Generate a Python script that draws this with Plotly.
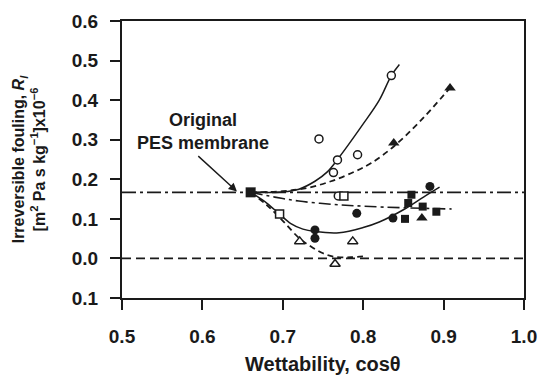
import plotly.graph_objects as go

# ---- data ----
orig_x = [0.66]
orig_y = [0.167]

open_circle_x = [0.745, 0.763, 0.768, 0.769, 0.793, 0.835]
open_circle_y = [0.302, 0.217, 0.249, 0.158, 0.262, 0.462]

open_square_x = [0.696, 0.776]
open_square_y = [0.112, 0.158]

open_tri_x = [0.721, 0.765, 0.787]
open_tri_y = [0.043, -0.014, 0.043]

fill_circle_x = [0.740, 0.740, 0.792, 0.837, 0.883]
fill_circle_y = [0.072, 0.051, 0.114, 0.102, 0.182]

fill_square_x = [0.852, 0.856, 0.860, 0.874, 0.891]
fill_square_y = [0.100, 0.140, 0.161, 0.131, 0.118]

fill_tri_x = [0.838, 0.873, 0.908]
fill_tri_y = [0.292, 0.102, 0.431]

c1_x = [0.66, 0.70, 0.72, 0.74, 0.755, 0.768, 0.80, 0.82, 0.835, 0.845]
c1_y = [0.167, 0.168, 0.175, 0.195, 0.218, 0.25, 0.34, 0.40, 0.462, 0.49]

c2_x = [0.66, 0.70, 0.73, 0.76, 0.79, 0.81, 0.838, 0.87, 0.908]
c2_y = [0.167, 0.170, 0.178, 0.195, 0.22, 0.241, 0.283, 0.345, 0.431]

c3_x = [0.66, 0.69, 0.72, 0.76, 0.80, 0.85, 0.91]
c3_y = [0.167, 0.155, 0.145, 0.137, 0.132, 0.128, 0.125]

c4_x = [0.66, 0.68, 0.696, 0.71, 0.725, 0.74, 0.77, 0.80, 0.82, 0.85, 0.875, 0.895]
c4_y = [0.167, 0.14, 0.112, 0.088, 0.074, 0.068, 0.065, 0.078, 0.092, 0.123, 0.155, 0.18]

c5_x = [0.66, 0.68, 0.70, 0.72, 0.735, 0.75, 0.765, 0.785, 0.805]
c5_y = [0.167, 0.135, 0.095, 0.052, 0.03, 0.013, 0.004, 0.003, 0.006]

ref_hline_y = 0.167
zero_line_y = 0.0

x_ticks = [0.5, 0.6, 0.7, 0.8, 0.9, 1.0]
x_ticktext = ["0.5", "0.6", "0.7", "0.8", "0.9", "1.0"]
y_ticks = [-0.1, 0.0, 0.1, 0.2, 0.3, 0.4, 0.5, 0.6]
y_ticktext = ["0.1", "0.0", "0.1", "0.2", "0.3", "0.4", "0.5", "0.6"]

x_title = "Wettability, cosθ"

FONT = "Liberation Sans, Arial, sans-serif"
INK = "#1a1a1a"

fig = go.Figure()

# horizontal reference lines
fig.add_trace(go.Scatter(x=[0.5, 1.0], y=[ref_hline_y, ref_hline_y], mode="lines",
                         line=dict(color=INK, width=1.8, dash="14px,4px,3px,4px"), showlegend=False))
fig.add_trace(go.Scatter(x=[0.5, 1.0], y=[zero_line_y, zero_line_y], mode="lines",
                         line=dict(color=INK, width=1.8, dash="9px,5px"), showlegend=False))

# curves
fig.add_trace(go.Scatter(x=c1_x, y=c1_y, mode="lines", line=dict(color=INK, width=1.5, shape="spline"), showlegend=False))
fig.add_trace(go.Scatter(x=c2_x, y=c2_y, mode="lines", line=dict(color=INK, width=1.8, dash="6px,4px", shape="spline"), showlegend=False))
fig.add_trace(go.Scatter(x=c3_x, y=c3_y, mode="lines", line=dict(color=INK, width=1.6, dash="12px,4px,3px,4px", shape="spline"), showlegend=False))
fig.add_trace(go.Scatter(x=c4_x, y=c4_y, mode="lines", line=dict(color=INK, width=1.5, shape="spline"), showlegend=False))
fig.add_trace(go.Scatter(x=c5_x, y=c5_y, mode="lines", line=dict(color=INK, width=1.8, dash="6px,4px", shape="spline"), showlegend=False))

# markers
def mk(sym, size, filled):
    if filled:
        return dict(symbol=sym, size=size, color=INK, line=dict(color=INK, width=0))
    return dict(symbol=sym, size=size, color="white", line=dict(color=INK, width=1.5))

fig.add_trace(go.Scatter(x=open_circle_x, y=open_circle_y, mode="markers", marker=mk("circle", 8, False), showlegend=False))
fig.add_trace(go.Scatter(x=open_square_x, y=open_square_y, mode="markers", marker=mk("square", 8, False), showlegend=False))
fig.add_trace(go.Scatter(x=open_tri_x, y=open_tri_y, mode="markers", marker=mk("triangle-up", 9, False), showlegend=False))
fig.add_trace(go.Scatter(x=fill_circle_x, y=fill_circle_y, mode="markers", marker=mk("circle", 9, True), showlegend=False))
fig.add_trace(go.Scatter(x=fill_square_x, y=fill_square_y, mode="markers", marker=mk("square", 8, True), showlegend=False))
fig.add_trace(go.Scatter(x=fill_tri_x, y=fill_tri_y, mode="markers", marker=mk("triangle-up", 10, True), showlegend=False))
fig.add_trace(go.Scatter(x=orig_x, y=orig_y, mode="markers", marker=mk("square", 10, True), showlegend=False))

# annotation
fig.add_annotation(x=0.643, y=0.169, ax=0.593, ay=0.262, xref="x", yref="y", axref="x", ayref="y",
                   text="", showarrow=True, arrowhead=2, arrowsize=1.2, arrowwidth=1.4, arrowcolor=INK)
fig.add_annotation(x=0.601, y=0.322, xref="x", yref="y", showarrow=False,
                   text="<b>Original<br>PES membrane</b>", align="center",
                   font=dict(family=FONT, size=18, color=INK))

# x-axis title as annotation, at the bottom edge of the page
fig.add_annotation(x=0.5, y=-0.2816, xref="paper", yref="paper", xanchor="center", yanchor="bottom",
                   showarrow=False, text=f"<b>{x_title}</b>", borderpad=0,
                   font=dict(family=FONT, size=20, color=INK))

fig.update_layout(
    width=538, height=376,
    margin=dict(l=122, r=14, t=21, b=78),
    paper_bgcolor="white", plot_bgcolor="white",
    font=dict(family=FONT, size=17, color=INK),
)
fig.update_xaxes(
    range=[0.5, 1.0], tickvals=x_ticks, ticktext=x_ticktext, automargin=False,
    ticks="outside", ticklen=10, tickwidth=2, tickcolor=INK,
    showline=True, linewidth=2, linecolor=INK, mirror=True,
    showgrid=False, zeroline=False, ticklabelstandoff=10,
    tickfont=dict(family=FONT, size=19, weight="bold", color=INK),
)
fig.update_yaxes(
    range=[-0.1, 0.6], tickvals=y_ticks, ticktext=y_ticktext, automargin=False,
    ticks="outside", ticklen=10, tickwidth=2, tickcolor=INK,
    showline=True, linewidth=2, linecolor=INK, mirror=True,
    showgrid=False, zeroline=False, ticklabelstandoff=8,
    tickfont=dict(family=FONT, size=19, weight="bold", color=INK),
    title=dict(text="<b>Irreversible fouling, <i>R</i><sub><i>I</i></sub><br>[m<sup>2</sup> Pa s kg<sup>−1</sup>]x10<sup>−6</sup></b>",
               font=dict(family=FONT, size=16, color=INK), standoff=22),
)

fig.write_html("out.html")
